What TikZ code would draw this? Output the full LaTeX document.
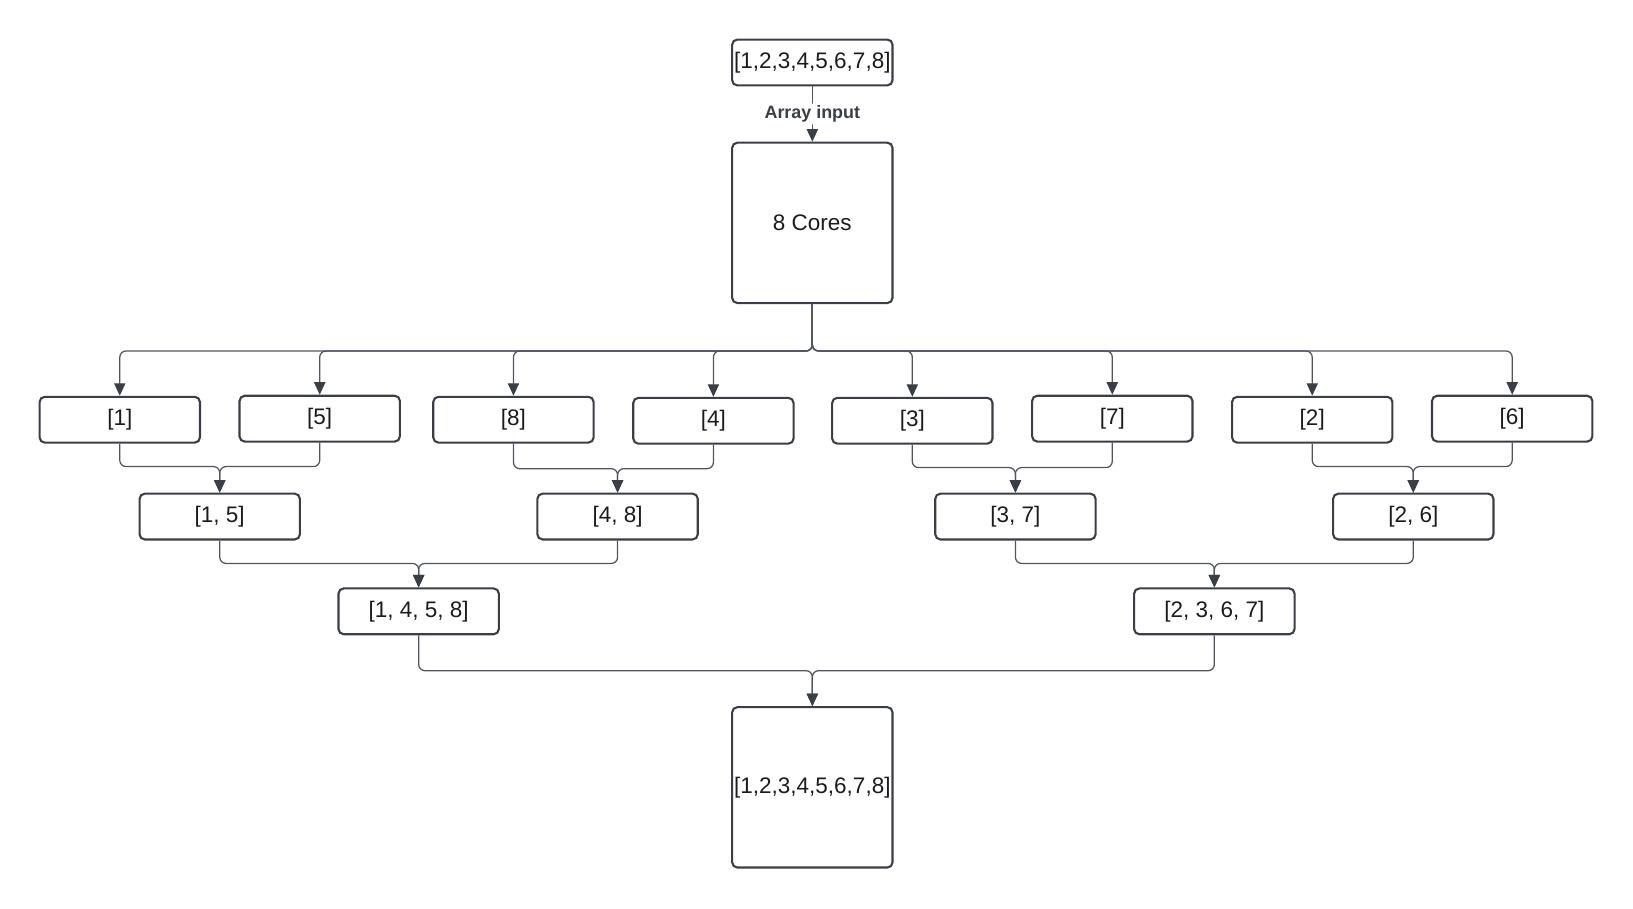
\documentclass[tikz,border=0pt]{standalone}
\usepackage{fontspec}
\setmainfont{Liberation Sans}
\usetikzlibrary{arrows.meta}
\definecolor{boxline}{HTML}{3A3E46}
\definecolor{conline}{HTML}{50555E}
\definecolor{txt}{HTML}{1C1C1C}
\tikzset{
  box/.style={draw=boxline, line width=1pt, rounded corners=2.5pt, fill=white,
    minimum width=77pt, minimum height=22pt, inner sep=0pt, text=txt,
    font=\fontsize{10.8}{13}\selectfont},
  bigbox/.style={box, minimum height=77pt},
  conn/.style={draw=conline, line width=0.6pt, rounded corners=3pt,
    -{Triangle[length=6pt,width=5.4pt]}, arrows={[color=boxline]}},
  lbl/.style={fill=white, inner sep=1pt, text=boxline,
    font=\fontsize{8.6}{10}\selectfont\bfseries}
}
\begin{document}
\begin{tikzpicture}[x=0.5pt,y=-0.5pt]
\useasboundingbox (0,0) rectangle (1568,872);
% nodes
\node[box] (in) at (780,60) {[1,2,3,4,5,6,7,8]};
\node[bigbox] (cores) at (780,214) {8 Cores};
\node[box] (a1) at (115,403) {[1]};
\node[box] (a5) at (307,402) {[5]};
\node[box] (a8) at (493,403) {[8]};
\node[box] (a4) at (685,404) {[4]};
\node[box] (a3) at (876,404) {[3]};
\node[box] (a7) at (1068,402) {[7]};
\node[box] (a2) at (1260,403) {[2]};
\node[box] (a6) at (1452,402) {[6]};
\node[box] (b15) at (211,496) {[1, 5]};
\node[box] (b48) at (593,496) {[4, 8]};
\node[box] (b37) at (975,496) {[3, 7]};
\node[box] (b26) at (1357,496) {[2, 6]};
\node[box] (c1458) at (402,587) {[1, 4, 5, 8]};
\node[box] (c2367) at (1166,587) {[2, 3, 6, 7]};
\node[bigbox] (out) at (780,756) {[1,2,3,4,5,6,7,8]};
% input arrow
\draw[conn] (in.south) -- node[lbl] {Array input} (cores.north);
% split bus
\coordinate (bus) at (780,337);
\foreach \n in {a1,a5,a8,a4,a3,a7,a2,a6}
  \draw[conn] (cores.south) -- (bus) -| (\n.north);
% merges level 1
\coordinate (j15) at (211,448);
\coordinate (j48) at (593,450);
\coordinate (j37) at (975,449);
\coordinate (j26) at (1357,448);
\draw[conn] (a1.south) |- (j15) -- (b15.north);
\draw[conn] (a5.south) |- (j15) -- (b15.north);
\draw[conn] (a8.south) |- (j48) -- (b48.north);
\draw[conn] (a4.south) |- (j48) -- (b48.north);
\draw[conn] (a3.south) |- (j37) -- (b37.north);
\draw[conn] (a7.south) |- (j37) -- (b37.north);
\draw[conn] (a2.south) |- (j26) -- (b26.north);
\draw[conn] (a6.south) |- (j26) -- (b26.north);
% merges level 2
\coordinate (k1) at (402,541);
\coordinate (k2) at (1166,541);
\draw[conn] (b15.south) |- (k1) -- (c1458.north);
\draw[conn] (b48.south) |- (k1) -- (c1458.north);
\draw[conn] (b37.south) |- (k2) -- (c2367.north);
\draw[conn] (b26.south) |- (k2) -- (c2367.north);
% merge level 3
\coordinate (m) at (780,644);
\draw[conn] (c1458.south) |- (m) -- (out.north);
\draw[conn] (c2367.south) |- (m) -- (out.north);
\end{tikzpicture}
\end{document}
